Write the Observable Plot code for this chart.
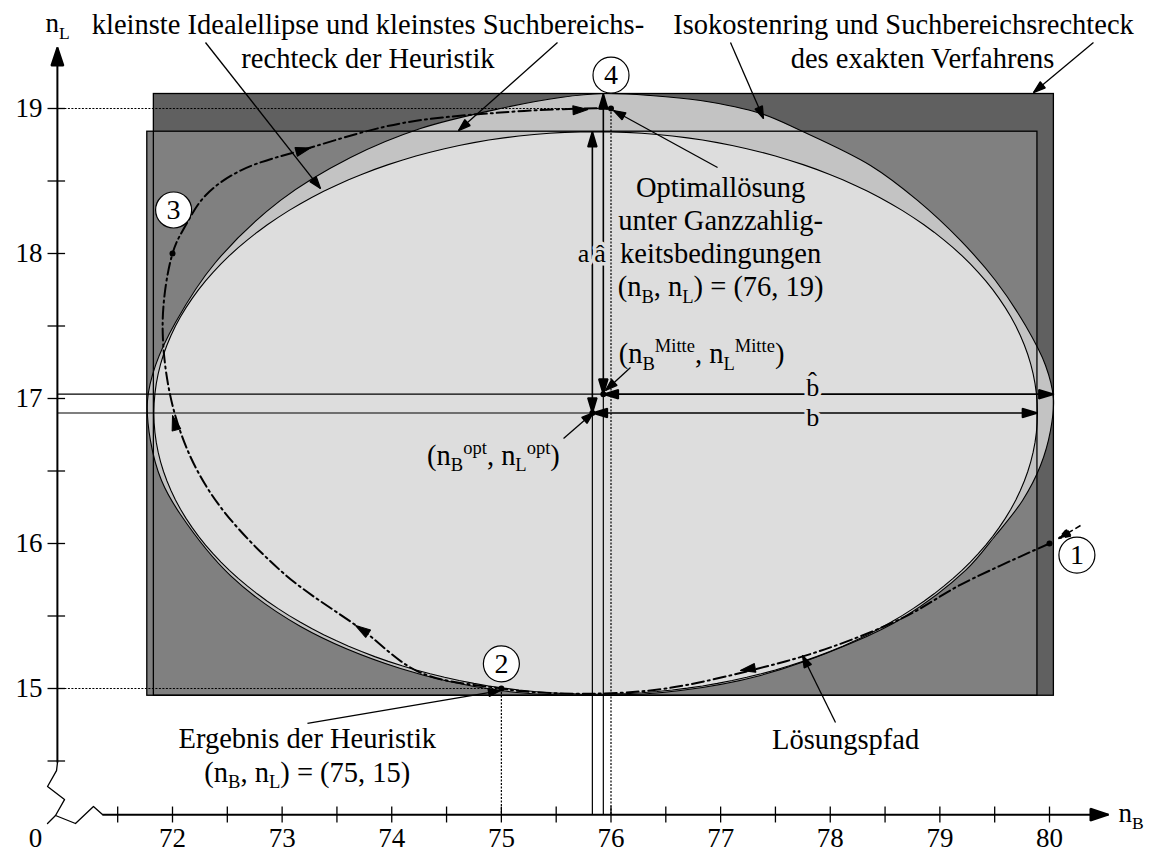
<!DOCTYPE html>
<html><head><meta charset="utf-8">
<script src="https://cdn.jsdelivr.net/npm/d3@7"></script>
<script src="https://cdn.jsdelivr.net/npm/@observablehq/plot@0.6"></script>
<style>html,body{margin:0;padding:0;background:#fff;} #chart svg{display:block;}</style>
</head><body><div id="chart"></div>
<script>
const FONT = "'Liberation Serif','Times New Roman',serif";

// ---------- axes ----------
const xTicks = [71.5,72,72.5,73,73.5,74,74.5,75,75.5,76,76.5,77,77.5,78,78.5,79,79.5,80];
const xTickLabels = [72,73,74,75,76,77,78,79,80];
const yTicks = [14.5,15,15.5,16,16.5,17,17.5,18,18.5,19];
const yTickLabels = [15,16,17,18,19];
const yAxisAt = 70.95;   // x value where the n_L axis stands
const xAxisAt = 14.13;   // y value where the n_B axis stands

// ---------- regions ----------
const rectExact = {x1: 71.83, x2: 80.04, y1: 14.95, y2: 19.10};     // Suchbereichsrechteck exakt
const rectHeuristic = {x1: 71.77, x2: 79.89, y1: 14.95, y2: 18.84}; // Suchbereichsrechteck Heuristik
const idealEllipse = {cx: 75.86, cy: 16.90, b: 4.03, a: 1.94};
const isocostRing = [
  [75.932,19.103],[76.360,19.090],[76.816,19.055],[77.364,18.966],[77.729,18.848],
  [78.367,18.607],[78.796,18.366],[79.188,18.090],[79.507,17.814],[79.781,17.503],
  [79.964,17.228],[80.036,17.000],[80.009,16.779],[79.918,16.538],[79.754,16.297],
  [79.507,16.055],[79.234,15.814],[78.668,15.490],[78.185,15.310],[77.364,15.090],
  [76.634,14.986],[75.932,14.953],[74.992,14.986],[74.080,15.138],[73.168,15.428],
  [72.529,15.779],[72.073,16.200],[71.900,16.434],[71.799,16.710],[71.772,16.986],
  [71.845,17.228],[72.027,17.524],[72.392,17.938],[72.985,18.366],[73.624,18.662],
  [74.262,18.862],[74.992,19.000],[75.539,19.076]
];

// ---------- key points ----------
const optPoint = {x: 75.83, y: 16.90};   // (nB^opt, nL^opt)
const midPoint = {x: 75.93, y: 17.03};   // (nB^Mitte, nL^Mitte)
const ellipseRight = 79.89, ellipseTop = 18.84;
const ringRight = 80.04, ringTop = 19.10;
const intOptimum = {x: 76, y: 19};
const heurResult = {x: 75, y: 15};

// ---------- solution path ----------
const solutionPath = [
  [80.0,16.0],[79.2,15.72],[78.67,15.49],[77.95,15.27],[77.25,15.12],[76.5,15.0],[75.9,14.965],
  [75.3,14.975],[75.0,15.0],[74.26,15.11],[73.72,15.41],[72.99,15.81],[72.35,16.345],[72.03,16.87],
  [71.91,17.49],[72.0,18.0],[72.119,18.193],[72.301,18.40],[72.62,18.572],[73.231,18.724],
  [74.08,18.897],[74.99,18.972],[75.75,19.0],[76.0,19.0]
];
const pathArrows = [
  {x1: 77.30, y1: 15.140, x2: 77.18, y2: 15.124},
  {x1: 73.78, y1: 15.380, x2: 73.67, y2: 15.434},
  {x1: 72.03, y1: 16.800, x2: 72.00, y2: 16.883},
  {x1: 73.15, y1: 18.705, x2: 73.26, y2: 18.728},
  {x1: 75.70, y1: 18.990, x2: 75.79, y2: 18.993}
];
const pathDots = [[80,16],[72,18],[76,19],[75,15]];
const stepLabels = [
  {n: "1", x: 80.25, y: 15.92},
  {n: "2", x: 75.00, y: 15.17},
  {n: "3", x: 72.01, y: 18.30},
  {n: "4", x: 76.00, y: 19.23}
];
const entryArrow = [{x1: 80.283, y1: 16.124, x2: 80.082, y2: 16.034}];

// ---------- annotation leaders ----------
const leaders = [
  {x1: 72.301, y1: 19.455, x2: 73.350, y2: 18.448},
  {x1: 75.512, y1: 19.455, x2: 74.609, y2: 18.848},
  {x1: 77.090, y1: 19.455, x2: 77.391, y2: 18.931},
  {x1: 80.401, y1: 19.455, x2: 79.854, y2: 19.110},
  {x1: 76.972, y1: 18.593, x2: 76.023, y2: 18.986},
  {x1: 76.178, y1: 17.214, x2: 75.950, y2: 17.055},
  {x1: 75.567, y1: 16.724, x2: 75.840, y2: 16.903},
  {x1: 73.231, y1: 14.759, x2: 74.992, y2: 14.986},
  {x1: 78.048, y1: 14.766, x2: 77.747, y2: 15.228}
];

// ---------- texts ----------
const labels = [
  {t: "kleinste Idealellipse und kleinstes Suchbereichs-", x: 73.783, y: 19.579},
  {t: "rechteck der Heuristik", x: 73.783, y: 19.345},
  {t: "Isokostenring und Suchbereichsrechteck", x: 78.668, y: 19.579},
  {t: "des exakten Verfahrens", x: 78.842, y: 19.345},
  {t: "Optimallösung", x: 77.0, y: 18.455},
  {t: "unter Ganzzahlig-", x: 77.0, y: 18.228},
  {t: "keitsbedingungen", x: 77.0, y: 18.0},
  {t: "(n_{B}, n_{L}) = (76, 19)", x: 77.0, y: 17.772},
  {t: "(n_{B}^{Mitte}, n_{L}^{Mitte})", x: 76.826, y: 17.31},
  {t: "(n_{B}^{opt}, n_{L}^{opt})", x: 74.928, y: 16.607},
  {t: "Ergebnis der Heuristik", x: 73.23, y: 14.655},
  {t: "(n_{B}, n_{L}) = (75, 15)", x: 73.23, y: 14.421},
  {t: "Lösungspfad", x: 78.14, y: 14.648}
];
const haloLabels = [
  {t: "a", x: 75.75, y: 18.0},
  {t: "â", x: 75.90, y: 18.0},
  {t: "b\u0302", x: 77.84, y: 17.076},
  {t: "b", x: 77.84, y: 16.87}
];

// ---------- helpers ----------
function arrowMarker(len, wid) {
  return (color) => {
    const ns = "http://www.w3.org/2000/svg";
    const m = document.createElementNS(ns, "marker");
    m.setAttribute("viewBox", `0 ${-wid / 2} ${len} ${wid}`);
    m.setAttribute("markerUnits", "userSpaceOnUse");
    m.setAttribute("markerWidth", len);
    m.setAttribute("markerHeight", wid);
    m.setAttribute("refX", len);
    m.setAttribute("refY", 0);
    m.setAttribute("orient", "auto-start-reverse");
    m.setAttribute("overflow", "visible");
    const p = document.createElementNS(ns, "path");
    p.setAttribute("d", `M0,${-wid / 2}L${len},0L0,${wid / 2}Z`);
    p.setAttribute("fill", color);
    m.appendChild(p);
    return m;
  };
}
const headAxis = arrowMarker(18, 12);
const headBig = arrowMarker(15, 9);
const headSmall = arrowMarker(12, 8);

const ellipsePts = d3.range(0, 360, 2).map(t => [
  idealEllipse.cx + idealEllipse.b * Math.cos(t * Math.PI / 180),
  idealEllipse.cy + idealEllipse.a * Math.sin(t * Math.PI / 180)
]);

const rules = [
  {x1: yAxisAt, y1: midPoint.y, x2: midPoint.x, y2: midPoint.y},
  {x1: yAxisAt, y1: optPoint.y, x2: optPoint.x, y2: optPoint.y},
  {x1: optPoint.x, y1: optPoint.y, x2: optPoint.x, y2: xAxisAt},
  {x1: midPoint.x, y1: midPoint.y, x2: midPoint.x, y2: xAxisAt}
];
const halfAxes = [
  {x1: optPoint.x, y1: optPoint.y, x2: ellipseRight, y2: optPoint.y},
  {x1: optPoint.x, y1: optPoint.y, x2: optPoint.x, y2: ellipseTop},
  {x1: midPoint.x, y1: midPoint.y, x2: ringRight, y2: midPoint.y},
  {x1: midPoint.x, y1: midPoint.y, x2: midPoint.x, y2: ringTop}
];
const dotted = [
  {x1: yAxisAt, y1: intOptimum.y, x2: intOptimum.x, y2: intOptimum.y},
  {x1: intOptimum.x, y1: intOptimum.y, x2: intOptimum.x, y2: xAxisAt},
  {x1: yAxisAt, y1: heurResult.y, x2: heurResult.x, y2: heurResult.y},
  {x1: heurResult.x, y1: heurResult.y, x2: heurResult.x, y2: xAxisAt}
];
const breakY = [[70.951,14.49],[70.942,14.434],[70.860,14.324],[71.015,14.234],[70.933,14.124],[70.860,14.069]];
const breakX = [[70.933,14.124],[71.115,14.069],[71.279,14.186],[71.361,14.131]];

const L = {x1: "x1", y1: "y1", x2: "x2", y2: "y2"};

const plot = Plot.plot({
  width: 1151, height: 852,
  marginTop: 0, marginRight: 0, marginBottom: 0, marginLeft: 0,
  x: {domain: [72, 80], range: [172, 1049], axis: null},
  y: {domain: [15, 19], range: [688, 108], axis: null},
  style: {fontFamily: FONT, background: "white", overflow: "visible"},
  marks: [
    Plot.rect([rectExact], {...L, fill: "#606060"}),
    Plot.rect([rectHeuristic], {...L, fill: "#808080"}),
    Plot.line(isocostRing, {x: d => d[0], y: d => d[1], curve: "catmull-rom-closed", fill: "#c3c3c3", stroke: "none"}),
    Plot.line(ellipsePts, {x: d => d[0], y: d => d[1], curve: "linear-closed", fill: "#dddddd", stroke: "none"}),
    Plot.rect([rectExact, rectHeuristic], {...L, fill: "none", stroke: "black", strokeWidth: 1.3}),
    Plot.line(isocostRing, {x: d => d[0], y: d => d[1], curve: "catmull-rom-closed", stroke: "black", strokeWidth: 1.1}),
    Plot.line(ellipsePts, {x: d => d[0], y: d => d[1], curve: "linear-closed", stroke: "black", strokeWidth: 1.1}),
    Plot.link(dotted, {...L, stroke: "black", strokeWidth: 1.2, strokeDasharray: "2,1.5"}),
    Plot.link(rules, {...L, stroke: "black", strokeWidth: 1.2}),
    Plot.link(halfAxes, {...L, stroke: "black", strokeWidth: 1.6, markerStart: headBig, markerEnd: headBig}),
    Plot.line(solutionPath, {x: d => d[0], y: d => d[1], curve: "catmull-rom", stroke: "black", strokeWidth: 2, strokeDasharray: "12,4,2,4"}),
    Plot.link(pathArrows, {...L, stroke: "black", strokeWidth: 1, markerEnd: headBig}),
    Plot.link(entryArrow, {...L, stroke: "black", strokeWidth: 1.6, strokeDasharray: "6,3", markerEnd: headSmall}),
    Plot.dot(pathDots, {x: d => d[0], y: d => d[1], r: 3, fill: "black", stroke: "none"}),
    Plot.dot([optPoint, midPoint], {x: "x", y: "y", r: 3, fill: "black", stroke: "none"}),
    Plot.link(leaders, {...L, stroke: "black", strokeWidth: 1.3, markerEnd: headSmall}),
    Plot.dot(stepLabels, {x: "x", y: "y", r: 18, fill: "white", stroke: "black", strokeWidth: 1.2}),
    Plot.text(stepLabels, {x: "x", y: "y", text: "n", fontSize: 28, fontFamily: FONT, fill: "black"}),
    Plot.text(labels, {x: "x", y: "y", text: "t", fontSize: 28.5, fontFamily: FONT, fill: "black"}),
    Plot.text(haloLabels, {x: "x", y: "y", text: "t", fontSize: 26, fontFamily: FONT, fill: "black", stroke: "#dddddd", strokeWidth: 7, paintOrder: "stroke"}),
    // n_B axis
    Plot.link([{x1: 71.361, y1: xAxisAt, x2: 80.538, y2: xAxisAt}], {...L, stroke: "black", strokeWidth: 2, markerEnd: headAxis}),
    Plot.link(xTicks, {x1: d => d, x2: d => d, y1: 14.186, y2: 14.076, stroke: "black", strokeWidth: 1.3}),
    Plot.text(xTickLabels, {x: d => d, y: 13.966, text: d => String(d), fontSize: 27, fontFamily: FONT, fill: "black"}),
    Plot.text(["0"], {x: 70.75, y: 13.966, text: d => d, fontSize: 27, fontFamily: FONT, fill: "black"}),
    Plot.text(["n_{B}"], {x: 80.63, y: 14.138, text: d => d, textAnchor: "start", fontSize: 27, fontFamily: FONT, fill: "black"}),
    Plot.line(breakX, {x: d => d[0], y: d => d[1], stroke: "black", strokeWidth: 1.3}),
    // n_L axis
    Plot.link([{x1: yAxisAt, y1: 14.49, x2: yAxisAt, y2: 19.421}], {...L, stroke: "black", strokeWidth: 2, markerEnd: headAxis}),
    Plot.link(yTicks, {y1: d => d, y2: d => d, x1: 70.86, x2: 71.02, stroke: "black", strokeWidth: 1.3}),
    Plot.text(yTickLabels, {x: 70.814, y: d => d, text: d => String(d), textAnchor: "end", fontSize: 27, fontFamily: FONT, fill: "black"}),
    Plot.text(["n_{L}"], {x: 70.842, y: 19.586, text: d => d, textAnchor: "start", fontSize: 27, fontFamily: FONT, fill: "black"}),
    Plot.line(breakY, {x: d => d[0], y: d => d[1], stroke: "black", strokeWidth: 1.3})
  ]
});

// turn _{..} / ^{..} into real sub/superscript tspans
function richText(svg) {
  const ns = "http://www.w3.org/2000/svg";
  svg.querySelectorAll("text").forEach(t => {
    const s = t.textContent;
    if (!/[_^]\{/.test(s)) return;
    const re = /([_^])\{([^}]*)\}/g;
    const parts = [];
    let last = 0, m;
    while ((m = re.exec(s))) {
      if (m.index > last) parts.push({text: s.slice(last, m.index), shift: 0, small: false});
      parts.push({text: m[2], shift: m[1] === "_" ? 0.24 : -0.38, small: true});
      last = re.lastIndex;
    }
    if (last < s.length) parts.push({text: s.slice(last), shift: 0, small: false});
    while (t.firstChild) t.removeChild(t.firstChild);
    let cur = 0;
    for (const p of parts) {
      const ts = document.createElementNS(ns, "tspan");
      const k = p.small ? 0.65 : 1;
      if (p.small) ts.setAttribute("font-size", "65%");
      const dy = (p.shift - cur) / k;
      if (Math.abs(dy) > 1e-9) ts.setAttribute("dy", dy.toFixed(3) + "em");
      cur = p.shift;
      ts.textContent = p.text;
      t.appendChild(ts);
    }
  });
}
richText(plot);
document.getElementById("chart").appendChild(plot);
</script>
</body></html>
